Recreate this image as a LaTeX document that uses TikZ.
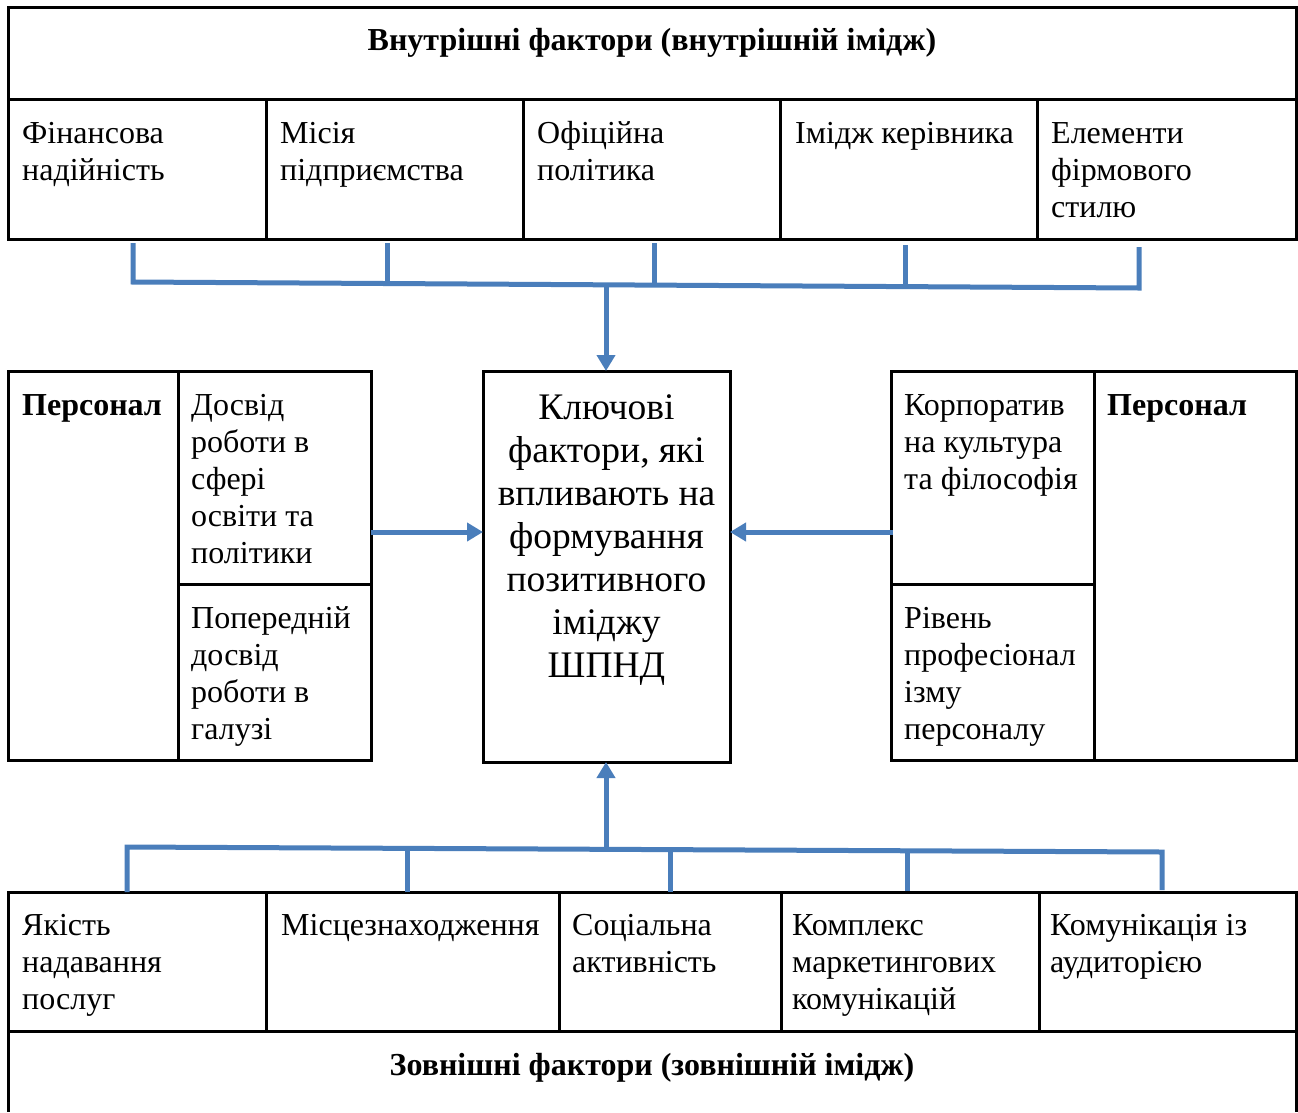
\documentclass[tikz,border=0pt]{standalone}
\usepackage{fontspec}
\setmainfont{Liberation Serif}
\usetikzlibrary{arrows.meta}
\definecolor{linkblue}{RGB}{74,126,187}
\begin{document}
\begin{tikzpicture}[x=1pt,y=-1pt,
  cell/.style={draw, line width=3pt, inner sep=0pt, outer sep=0pt, anchor=north west},
  blank/.style={inner sep=0pt, outer sep=0pt, anchor=north west},
  txt/.style={anchor=base west, inner sep=0pt, align=left, font=\fontsize{32}{37}\selectfont},
  head/.style={anchor=base, inner sep=0pt, font=\fontsize{32}{37}\selectfont\bfseries},
  link/.style={draw=linkblue, line width=5pt},
  arr/.style={link, -{Triangle[width=18pt,length=16pt]}}]
\useasboundingbox[fill=white] (0,0) rectangle (1298,1112);

% ---- top table ----
\node[cell, minimum width=1288pt, minimum height=92pt] (hdr) at (8,7) {};
\node[cell, minimum width=258pt, minimum height=140pt] (c1) at (8,99) {};
\node[cell, minimum width=257pt, minimum height=140pt] (c2) at (266,99) {};
\node[cell, minimum width=257pt, minimum height=140pt] (c3) at (523,99) {};
\node[cell, minimum width=257pt, minimum height=140pt] (c4) at (780,99) {};
\node[cell, minimum width=259pt, minimum height=140pt] (c5) at (1037,99) {};
\node[head] (hdrt) at (652,50) {Внутрішні фактори (внутрішній імідж)};
% base anchor = baseline of the last line
\node[txt] (t1) at (22,180) {Фінансова\\надійність};
\node[txt] (t2) at (280,180) {Місія\\підприємства};
\node[txt] (t3) at (537,180) {Офіційна\\політика};
\node[txt] (t4) at (795,143) {Імідж керівника};
\node[txt] (t5) at (1051,217) {Елементи\\фірмового\\стилю};

% ---- centre ----
\node[cell, minimum width=247pt, minimum height=391pt] (ctr) at (483,371) {};
\node[anchor=base, inner sep=0pt, align=center, font=\fontsize{37.5}{43}\selectfont] (ctrt) at (606.5,677)
  {Ключові\\фактори, які\\впливають на\\формування\\позитивного\\іміджу\\ШПНД};

% ---- left group ----
\node[cell, minimum width=170pt, minimum height=389pt] (lp) at (8,371) {};
\node[cell, minimum width=193pt, minimum height=213pt] (l1) at (178,371) {};
\node[cell, minimum width=193pt, minimum height=176pt] (l2) at (178,584) {};
\node[txt, font=\fontsize{32}{37}\selectfont\bfseries] (lpt) at (22,415) {Персонал};
\node[txt] (l1t) at (191,563) {Досвід\\роботи в\\сфері\\освіти та\\політики};
\node[txt] (l2t) at (191,739) {Попередній\\досвід\\роботи в\\галузі};

% ---- right group ----
\node[cell, minimum width=203pt, minimum height=213pt] (r1) at (891,371) {};
\node[cell, minimum width=203pt, minimum height=176pt] (r2) at (891,584) {};
\node[cell, minimum width=202pt, minimum height=389pt] (rp) at (1094,371) {};
\node[txt] (r1t) at (904,489) {Корпоратив\\на культура\\та філософія};
\node[txt] (r2t) at (904,739) {Рівень\\професіонал\\ізму\\персоналу};
\node[txt, font=\fontsize{32}{37}\selectfont\bfseries] (rpt) at (1107,415) {Персонал};

% ---- bottom table ----
\node[cell, minimum width=258pt, minimum height=139pt] (b1) at (8,892) {};
\node[cell, minimum width=293pt, minimum height=139pt] (b2) at (266,892) {};
\node[cell, minimum width=222pt, minimum height=139pt] (b3) at (559,892) {};
\node[cell, minimum width=258pt, minimum height=139pt] (b4) at (781,892) {};
\node[cell, minimum width=257pt, minimum height=139pt] (b5) at (1039,892) {};
\node[blank, minimum width=1288pt, minimum height=81pt] (foot) at (8,1031) {};
\draw[line width=3pt] (foot.north west) -- (foot.south west);
\draw[line width=3pt] (foot.north east) -- (foot.south east);
\node[txt] (b1t) at (22,1009) {Якість\\надавання\\послуг};
\node[txt] (b2t) at (281,935) {Місцезнаходження};
\node[txt] (b3t) at (572,972) {Соціальна\\активність};
\node[txt] (b4t) at (792,1009) {Комплекс\\маркетингових\\комунікацій};
\node[txt] (b5t) at (1050,972) {Комунікація із\\аудиторією};
\node[head] (foott) at (652,1075) {Зовнішні фактори (зовнішній імідж)};

% ---- connectors: top ----
\coordinate (u1) at (133,243);
\coordinate (u2) at (387,243);
\coordinate (u3) at (654,243);
\coordinate (u4) at (905,245);
\coordinate (u5) at (1139,247);
\coordinate (ub1) at (133,282);
\coordinate (ub2) at (387,283.5);
\coordinate (ub3) at (654,285.1);
\coordinate (ub4) at (905,286.6);
\coordinate (ub5) at (1139,288);
\coordinate (uj) at (606,284.8);
\draw[link] (u1) -- (ub1) -- (ub5) -- (u5);
\draw[link] (u2) -- (ub2);
\draw[link] (u3) -- (ub3);
\draw[link] (u4) -- (ub4);
\draw[arr] (uj) -- (uj |- ctr.north);

% ---- connectors: bottom ----
\coordinate (d1) at (127,892);
\coordinate (d2) at (407,892);
\coordinate (d3) at (670,892);
\coordinate (d4) at (907,891);
\coordinate (d5) at (1162,890);
\coordinate (db1) at (127,847);
\coordinate (db2) at (407,848.4);
\coordinate (db3) at (670,849.6);
\coordinate (db4) at (907,850.8);
\coordinate (db5) at (1162,852);
\coordinate (dj) at (606,849.3);
\draw[link] (d1) -- (db1) -- (db5) -- (d5);
\draw[link] (d2) -- (db2);
\draw[link] (d3) -- (db3);
\draw[link] (d4) -- (db4);
\draw[arr] (dj) -- (dj |- ctr.south);

% ---- side arrows ----
\coordinate (la) at (371,532);
\coordinate (ra) at (893,532);
\draw[arr] (la) -- (la -| ctr.west);
\draw[arr] (ra) -- (ra -| ctr.east);
\end{tikzpicture}
\end{document}
